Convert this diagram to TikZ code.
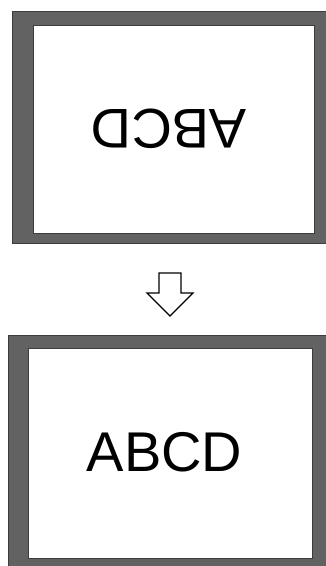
\documentclass[tikz,border=0pt]{standalone}
\usepackage{fontspec}
\setmainfont{Liberation Sans}
\usepackage{xcolor}
\definecolor{framegray}{RGB}{98,98,98}
\definecolor{edgegray}{RGB}{60,60,60}
\usetikzlibrary{calc}

\begin{document}
\begin{tikzpicture}[x=1pt,y=-1pt,
  frame/.style={fill=framegray,draw=edgegray,line width=0.6pt,inner sep=0pt,outer sep=0pt},
  panel/.style={fill=white,draw=edgegray,line width=0.6pt,inner sep=0pt,outer sep=0pt},
  label/.style={inner sep=0pt,font=\fontsize{56}{60}\selectfont},
  hollowarrow/.style={draw=black,fill=white,line width=1.3pt,line join=miter}]
  \useasboundingbox[fill=white] (0,0) rectangle (326,566);
  % mirrored card
  \node[frame,minimum width=314pt,minimum height=232pt] (upperframe) at (169,127) {};
  \node[panel,minimum width=281pt,minimum height=208pt] (upperpanel) at (173.5,129) {};
  \node[label,rotate=180] (upperlabel) at (169,129) {ABCD};
  % turned card
  \node[frame,minimum width=318pt,minimum height=231pt] (lowerframe) at (167,450.5) {};
  \node[panel,minimum width=284pt,minimum height=210pt] (lowerpanel) at (170,453) {};
  \node[label] (lowerlabel) at (164.5,452) {ABCD};
  % arrow
  \coordinate (flip) at (170,273);
  \draw[hollowarrow] (flip) +(-11,0) -- +(11,0) -- +(11,20) -- +(23,20)
    -- +(0,43) -- +(-23,20) -- +(-11,20) -- cycle;
\end{tikzpicture}
\end{document}
